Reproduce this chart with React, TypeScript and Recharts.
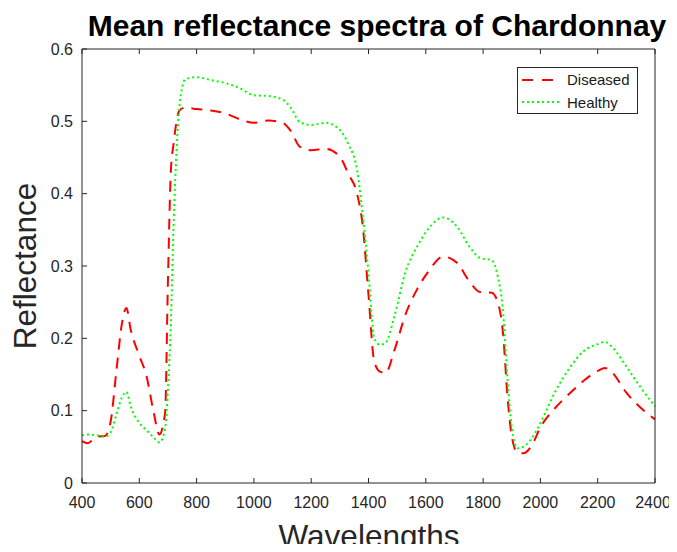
import { LineChart, Line, XAxis, YAxis, Legend } from "recharts"

// wavelength (nm) sample points
const wavelengths = [
  400, 420, 450, 480, 500, 520, 540, 555, 570, 600, 625, 650, 670, 690, 700, 710, 720, 730, 740, 760,
  800, 850, 900, 950, 1000, 1050, 1100, 1130, 1160, 1200, 1250, 1300, 1330, 1360, 1380, 1400, 1420,
  1440, 1460, 1490, 1530, 1570, 1610, 1660, 1710, 1750, 1790, 1830, 1850, 1870, 1885, 1900, 1920,
  1940, 1970, 2000, 2050, 2100, 2150, 2200, 2225, 2250, 2300, 2350, 2400,
]

const diseased = [
  0.058, 0.055, 0.064, 0.065, 0.085, 0.155, 0.222, 0.242, 0.212, 0.176, 0.148, 0.098, 0.067, 0.097,
  0.28, 0.43, 0.47, 0.5, 0.515, 0.519, 0.517, 0.515, 0.511, 0.503, 0.498, 0.501, 0.498, 0.486, 0.465,
  0.46, 0.462, 0.451, 0.427, 0.4, 0.355, 0.26, 0.168, 0.154, 0.152, 0.183, 0.234, 0.268, 0.293, 0.313,
  0.304, 0.28, 0.264, 0.263, 0.251, 0.205, 0.12, 0.065, 0.042, 0.041, 0.052, 0.077, 0.103, 0.123,
  0.141, 0.155, 0.159, 0.153, 0.125, 0.104, 0.088,
]

const healthy = [
  0.066, 0.067, 0.066, 0.064, 0.07, 0.095, 0.119, 0.126, 0.106, 0.083, 0.073, 0.063, 0.056, 0.075,
  0.13, 0.22, 0.36, 0.46, 0.52, 0.558, 0.561, 0.557, 0.553, 0.546, 0.536, 0.535, 0.53, 0.518, 0.499,
  0.495, 0.498, 0.488, 0.468, 0.433, 0.37, 0.29, 0.2, 0.191, 0.194, 0.23, 0.293, 0.327, 0.352, 0.367,
  0.354, 0.328, 0.311, 0.308, 0.288, 0.235, 0.145, 0.078, 0.048, 0.05, 0.062, 0.083, 0.125, 0.158,
  0.182, 0.192, 0.195, 0.188, 0.161, 0.132, 0.106,
]

const xTicks = [400, 600, 800, 1000, 1200, 1400, 1600, 1800, 2000, 2200, 2400]
const yTicks = [0, 0.1, 0.2, 0.3, 0.4, 0.5, 0.6]

const data = wavelengths.map((w, i) => ({ w, diseased: diseased[i], healthy: healthy[i] }))

const axisColor = "#262626"
const font = "'Liberation Sans', Arial, Helvetica, sans-serif"
const tickStyle = { fontSize: 16, fill: axisColor, fontFamily: font }
const blank = () => ""

const renderTitle = () => (
  <text x={369} y={28} textAnchor="middle" fontSize={30} fontWeight="bold" fontFamily={font} fill="#000">
    Mean reflectance spectra of Chardonnay
  </text>
)

const renderXLabel = () => (
  <text x={361} y={539} textAnchor="middle" fontSize={31.5} fontFamily={font} fill={axisColor}>
    Wavelengths
  </text>
)

const renderYLabel = () => (
  <text
    transform="translate(28, 258) rotate(-90)"
    textAnchor="middle"
    fontSize={31.5}
    fontFamily={font}
    fill={axisColor}
  >
    Reflectance
  </text>
)

function LegendBox() {
  return (
    <svg width={121} height={47} style={{ display: "block" }}>
      <rect x={0.5} y={0.5} width={120} height={46} fill="#fff" stroke={axisColor} />
      <line x1={5} x2={38} y1={13} y2={13} stroke="#ff0000" strokeWidth={2} strokeDasharray="11 9" />
      <text x={50} y={18} fontSize={15} fontFamily={font} fill="#1a1a1a">Diseased</text>
      <line x1={5} x2={42} y1={35} y2={35} stroke="#00ff00" strokeWidth={2} strokeDasharray="2 3" />
      <text x={50} y={41} fontSize={15} fontFamily={font} fill="#1a1a1a">Healthy</text>
    </svg>
  )
}

export default function App() {
  return (
    <div style={{ width: 661, height: 536, background: "#fff" }}>
      <style>{".recharts-surface{overflow:visible}"}</style>
      <LineChart width={661} height={536} data={data} margin={{ top: 40, right: 13, bottom: 0, left: 0 }}>
        <XAxis
          xAxisId="bottom"
          dataKey="w"
          type="number"
          domain={[400, 2400]}
          ticks={xTicks}
          height={61}
          stroke={axisColor}
          tickSize={-5}
          tickMargin={19}
          tick={tickStyle}
          label={{ content: renderXLabel }}
        />
        <XAxis
          xAxisId="top"
          orientation="top"
          dataKey="w"
          type="number"
          domain={[400, 2400]}
          ticks={xTicks}
          height={1}
          stroke={axisColor}
          tickSize={-5}
          tickFormatter={blank}
          label={{ content: renderTitle }}
        />
        <YAxis
          yAxisId="left"
          domain={[0, 0.6]}
          ticks={yTicks}
          width={74}
          stroke={axisColor}
          tickSize={-5}
          tickMargin={14}
          tick={tickStyle}
          label={{ content: renderYLabel }}
        />
        <YAxis
          yAxisId="right"
          orientation="right"
          domain={[0, 0.6]}
          ticks={yTicks}
          width={1}
          stroke={axisColor}
          tickSize={-5}
          tickFormatter={blank}
        />
        <Legend
          layout="vertical"
          align="center"
          verticalAlign="middle"
          content={<LegendBox />}
          wrapperStyle={{ left: 509, top: 59, right: "auto", bottom: "auto", width: 121, height: 47 }}
        />
        <Line
          xAxisId="bottom"
          yAxisId="left"
          dataKey="diseased"
          name="Diseased"
          type="monotone"
          stroke="#ff0000"
          strokeWidth={2}
          strokeDasharray="11 8"
          dot={false}
          isAnimationActive={false}
        />
        <Line
          xAxisId="bottom"
          yAxisId="left"
          dataKey="healthy"
          name="Healthy"
          type="monotone"
          stroke="#00ff00"
          strokeWidth={2}
          strokeDasharray="2 3"
          dot={false}
          isAnimationActive={false}
        />
      </LineChart>
    </div>
  )
}
